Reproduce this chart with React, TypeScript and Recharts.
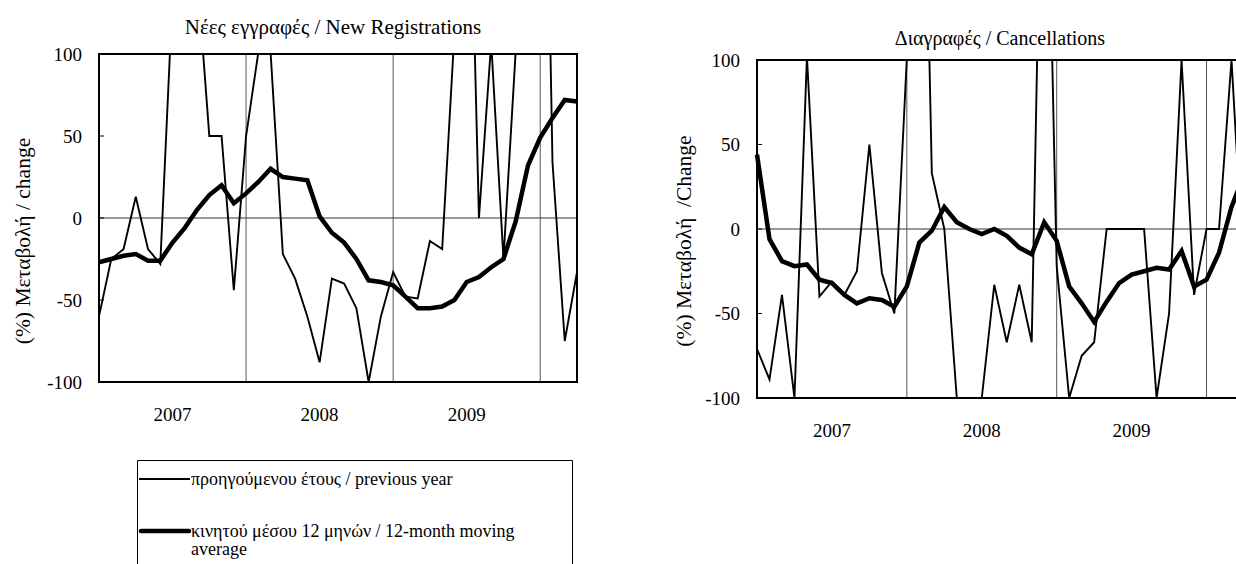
import { LineChart, Line, XAxis, YAxis, ReferenceLine } from "recharts";

// monthly categories, Jan 2007 .. Apr 2010
const months = [
  "2007-01", "2007-02", "2007-03", "2007-04", "2007-05", "2007-06",
  "2007-07", "2007-08", "2007-09", "2007-10", "2007-11", "2007-12",
  "2008-01", "2008-02", "2008-03", "2008-04", "2008-05", "2008-06",
  "2008-07", "2008-08", "2008-09", "2008-10", "2008-11", "2008-12",
  "2009-01", "2009-02", "2009-03", "2009-04", "2009-05", "2009-06",
  "2009-07", "2009-08", "2009-09", "2009-10", "2009-11", "2009-12",
  "2010-01", "2010-02", "2010-03", "2010-04",
];
const yearStarts = ["2008-01", "2009-01", "2010-01"];
const yearLabelTicks = ["2007-07", "2008-07", "2009-07"];
const yTicks = [-100, -50, 0, 50, 100];

// Νέες εγγραφές / New Registrations
const newPrevYear = [
  -60, -25, -19, 13, -19, -28, 135, 160, 150, 50, 50, -44,
  50, 101, 101, -22, -37, -60, -88, -37, -40, -55, -100, -60,
  -33, -48, -49, -14, -19, 113, 300, 0, 107, -25, 102, 250,
  440, 34, -75, -33,
];
const newMovingAvg = [
  -27, -25, -23, -22, -26, -26, -15, -6, 5, 14, 20, 9,
  15, 22, 30, 25, 24, 23, 1, -9, -15, -25, -38, -39,
  -41, -48, -55, -55, -54, -50, -39, -36, -30, -25, -2, 32,
  49, 61, 72, 71,
];

// Διαγραφές / Cancellations
const cancPrevYear = [
  -71, -89, -39, -100, 102, -40, -31, -39, -25, 50, -26, -50,
  101, 380, 33, 0, -100, -130, -100, -33, -67, -33, -67, 320,
  -22, -100, -75, -67, 0, 0, 0, 0, -100, -50, 100, -39,
  0, 0, 100, -30,
];
const cancMovingAvg = [
  44, -6, -19, -22, -21, -30, -32, -39, -44, -41, -42, -46,
  -34, -8, -1, 13, 4, 0, -3, 0, -4, -11, -15, 4,
  -7, -34, -44, -55, -43, -32, -27, -25, -23, -24, -13, -34,
  -30, -14, 13, 32,
];

const legendPrev = "προηγούμενου έτους / previous year";
const legendAvgLine1 = "κινητού μέσου 12 μηνών / 12-month moving";
const legendAvgLine2 = "average";

const FONT = '"Liberation Serif", "Times New Roman", serif';
const TICK_FS = 19;
const LABEL_FS = 21.5;
const LEGEND_FS = 18;

function toRows(prev: number[], avg: number[]) {
  return months.map((m, i) => ({ month: m, prev: prev[i], avg: avg[i] }));
}

interface PanelProps {
  title: string;
  titleSize: number;
  yLabel: string;
  prev: number[];
  avg: number[];
  left: number;
  width: number;
  height: number;
  margin: { top: number; right: number; bottom: number; left: number };
  xAxisHeight: number;
  titleX: number;
  titleY: number;
  labelX: number;
  labelY: number;
  // plot frame box (page px)
  frame: { x: number; y: number; w: number; h: number; openRight?: boolean };
}

function Panel(p: PanelProps) {
  const data = toRows(p.prev, p.avg);
  const edge = "#000";
  const f = p.frame;
  return (
    <>
      <div
        style={{
          position: "absolute",
          left: p.titleX - 300,
          top: p.titleY - 14,
          width: 600,
          textAlign: "center",
          fontFamily: FONT,
          fontSize: p.titleSize,
          lineHeight: "28px",
          whiteSpace: "nowrap",
        }}
      >
        {p.title}
      </div>
      <div
        style={{
          position: "absolute",
          left: p.labelX - 150,
          top: p.labelY - 14,
          width: 300,
          textAlign: "center",
          fontFamily: FONT,
          fontSize: LABEL_FS,
          lineHeight: "28px",
          transform: "rotate(-90deg)",
          whiteSpace: "pre",
        }}
      >
        {p.yLabel}
      </div>
      <div style={{ position: "absolute", left: p.left, top: 0 }}>
        <LineChart width={p.width} height={p.height} data={data} margin={p.margin}>
          <XAxis
            dataKey="month"
            ticks={yearLabelTicks}
            interval={0}
            tickFormatter={(m: string) => m.slice(0, 4)}
            tickLine={false}
            axisLine={false}
            tickSize={0}
            tickMargin={26}
            height={p.xAxisHeight}
            tick={{ fill: "#000", fontSize: TICK_FS, fontFamily: FONT }}
          />
          <YAxis
            type="number"
            domain={[-100, 100]}
            ticks={yTicks}
            interval={0}
            allowDataOverflow
            width={50}
            axisLine={false}
            tickSize={-5}
            tickMargin={22}
            tickLine={{ stroke: "#000", strokeWidth: 1 }}
            tick={{ fill: "#000", fontSize: TICK_FS, fontFamily: FONT }}
          />
          <ReferenceLine y={0} stroke="#333" strokeWidth={1} />
          {yearStarts.map((m) => (
            <ReferenceLine key={m} x={m} stroke="#555" strokeWidth={1} />
          ))}
          <Line
            type="linear"
            dataKey="prev"
            stroke="#000"
            strokeWidth={1.9}
            dot={false}
            activeDot={false}
            isAnimationActive={false}
          />
          <Line
            type="linear"
            dataKey="avg"
            stroke="#000"
            strokeWidth={4.5}
            dot={false}
            activeDot={false}
            isAnimationActive={false}
          />
        </LineChart>
      </div>
      <div
        style={{
          position: "absolute",
          left: f.x,
          top: f.y,
          width: f.w,
          height: f.h,
          borderTop: `2px solid ${edge}`,
          borderBottom: `2px solid ${edge}`,
          borderLeft: `2px solid ${edge}`,
          borderRight: f.openRight ? "none" : `2px solid ${edge}`,
          boxSizing: "border-box",
          pointerEvents: "none",
          zIndex: 2,
        }}
      />
    </>
  );
}

export default function App() {
  return (
    <div
      style={{
        position: "absolute",
        left: 0,
        top: 0,
        width: 1236,
        height: 564,
        overflow: "hidden",
        background: "#fff",
        fontFamily: FONT,
      }}
    >
      <Panel
        title="Νέες εγγραφές / New Registrations"
        titleSize={21}
        yLabel="(%) Μεταβολή / change"
        prev={newPrevYear}
        avg={newMovingAvg}
        left={0}
        width={600}
        height={440}
        margin={{ top: 54, right: 23, bottom: 0, left: 49 }}
        xAxisHeight={58}
        titleX={333}
        titleY={27}
        labelX={23}
        labelY={241}
        frame={{ x: 98, y: 53, w: 480, h: 330 }}
      />
      <Panel
        title="Διαγραφές / Cancellations"
        titleSize={20}
        yLabel="(%) Μεταβολή  /Change"
        prev={cancPrevYear}
        avg={cancMovingAvg}
        left={660}
        width={600}
        height={460}
        margin={{ top: 60, right: 16, bottom: 0, left: 47 }}
        xAxisHeight={62}
        titleX={1000}
        titleY={38}
        labelX={684}
        labelY={241}
        frame={{ x: 756, y: 59, w: 480, h: 340, openRight: true }}
      />
      <svg
        style={{ position: "absolute", left: 137, top: 460 }}
        width={436}
        height={110}
      >
        <path d="M0.5,110 V0.5 H435.5 V110" fill="none" stroke="#000" strokeWidth={1} />
        <line x1={2} y1={19} x2={53} y2={19} stroke="#000" strokeWidth={1.9} />
        <text x={54} y={25} fontFamily={FONT} fontSize={LEGEND_FS} fill="#000">
          {legendPrev}
        </text>
        <line x1={4} y1={71} x2={52} y2={71} stroke="#000" strokeWidth={4.5} strokeLinecap="round" />
        <text x={54} y={77} fontFamily={FONT} fontSize={LEGEND_FS} fill="#000">
          {legendAvgLine1}
        </text>
        <text x={54} y={95} fontFamily={FONT} fontSize={LEGEND_FS} fill="#000">
          {legendAvgLine2}
        </text>
      </svg>
    </div>
  );
}
